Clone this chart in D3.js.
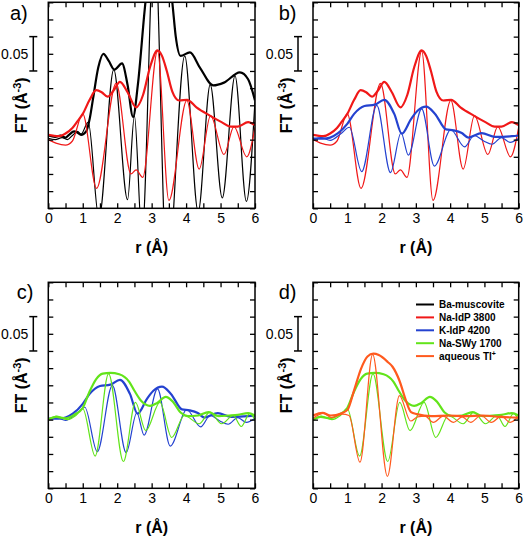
<!DOCTYPE html>
<html><head><meta charset="utf-8">
<script src="https://cdn.jsdelivr.net/npm/d3@7"></script>
<style>body{margin:0;background:#fff} svg{display:block} text{font-family:"Liberation Sans",Arial,sans-serif}</style>
</head><body><svg id="c" width="524" height="541"></svg>
<script>
// ---- data (r in Å, FT in Å^-3) ----
const baMagR = [0,0.2,0.35,0.5,0.6,0.75,0.85,0.95,1.1,1.2,1.3,1.45,1.6,1.75,1.92,2.14,2.3,2.46,2.6,2.8,3.0,3.2,3.4,3.6,3.7,3.84,4.11,4.4,4.79,5.1,5.56,5.8,6.0];
const baMagV = [0.006,0.004,0.006,0.003,0.007,0.012,0.010,0.007,0.012,0.03,0.06,0.105,0.125,0.115,0.102,0.111,0.08,0.033,0.08,0.19,0.28,0.30,0.28,0.2,0.15,0.122,0.127,0.105,0.079,0.083,0.098,0.088,0.057];
const baImR = [0,0.2,0.4,0.55,0.7,0.85,0.95,1.16,1.47,1.9,2.3,2.5,2.72,3.08,3.45,3.96,4.35,4.7,5.05,5.42,5.75,6.0];
const baImV = [0.002,0.0,0.003,0.0,0.006,0.012,0.008,0.0255,-0.115,0.102,-0.0875,0.035,-0.14,0.3,-0.2,0.122,-0.105,0.08,-0.085,0.093,-0.09,0.057];

const naMagR = [0,0.3,0.5,0.7,0.85,1.0,1.2,1.39,1.55,1.72,1.9,2.08,2.3,2.55,2.75,2.95,3.17,3.3,3.44,3.6,3.8,4.03,4.3,4.69,5.03,5.3,5.5,5.8,6.0];
const naMagV = [0.007,0.005,0.009,0.017,0.027,0.0375,0.058,0.072,0.069,0.0625,0.072,0.084,0.069,0.047,0.065,0.105,0.130,0.122,0.1,0.07,0.057,0.058,0.047,0.035,0.0255,0.019,0.019,0.0255,0.021];
const naImR = [0,0.22,0.5,0.7,1.0,1.4,1.97,2.4,2.55,2.74,3.17,3.5,4.02,4.38,4.71,5.1,5.39,5.76,6.0];
const naImV = [0.0,-0.005,-0.008,-0.002,0.0375,-0.071,0.082,-0.05,-0.044,-0.055,0.129,-0.0885,0.057,-0.043,0.035,-0.0216,0.019,-0.025,0.018];

const kMagR = [0,0.3,0.5,0.72,1.0,1.2,1.5,1.8,2.08,2.37,2.59,2.86,3.05,3.3,3.56,3.88,4.1,4.34,4.53,4.92,5.31,5.8,6.0];
const kMagV = [0.0015,0.0015,0.003,0.009,0.023,0.0375,0.049,0.051,0.058,0.0375,0.0087,0.030,0.042,0.048,0.0375,0.015,0.0135,0.0096,0.003,0.0096,0.004,0.005,0.006];
const kImR = [0,0.23,0.5,0.82,1.06,1.42,1.86,2.26,2.57,2.78,3.17,3.54,4.02,4.42,4.7,4.98,5.22,5.5,5.75,6.0];
const kImV = [0,0.003,-0.001,0.009,0.018,-0.0466,0.050,-0.048,0.010,-0.0226,0.0447,-0.0385,0.0144,-0.0106,0.006,-0.002,-0.0067,0.003,-0.004,0.002];

const swyMagR = [0,0.22,0.5,0.75,1.0,1.19,1.39,1.58,1.8,2.06,2.35,2.5,2.7,2.95,3.15,3.41,3.6,3.85,4.05,4.35,4.65,4.95,5.25,5.5,5.8,6.0];
const swyMagV = [0.0,0.004,0.002,0.007,0.017,0.04,0.059,0.067,0.068,0.066,0.055,0.042,0.027,0.02,0.024,0.033,0.027,0.01,0.005,0.006,0.011,0.005,0.006,0.007,0.0096,0.006];
const swyImR = [0,0.25,0.55,0.8,1.0,1.36,1.75,2.18,2.53,2.83,3.24,3.58,3.95,4.38,4.69,5.03,5.37,5.6,5.85,6.0];
const swyImV = [0,0.005,0.0,0.006,0.016,-0.053,0.067,-0.061,0.025,-0.016,0.025,-0.026,0.006,-0.006,0.011,-0.006,0.006,-0.01,0.009,-0.001];

const tlMagR = [0,0.28,0.52,0.82,1.01,1.2,1.4,1.59,1.76,1.92,2.18,2.32,2.52,2.71,2.86,3.03,3.45,3.95,4.45,4.95,5.45,6.0];
const tlMagV = [0.006,0.0097,0.006,0.009,0.0146,0.043,0.074,0.092,0.096,0.094,0.084,0.077,0.057,0.028,0.011,0.008,0.005,0.006,0.005,0.006,0.004,0.003];
const tlImR = [0,0.3,0.55,0.85,1.05,1.37,1.74,2.17,2.52,2.85,3.05,3.27,3.51,3.8,4.1,4.35,4.6,4.9,5.2,5.5,5.75,6.0];
const tlImV = [0.002,0.009,0.003,0.008,0.006,-0.062,0.095,-0.0825,0.035,-0.002,0.004,0.005,-0.004,0.005,-0.004,0.004,-0.004,0.006,-0.004,0.005,-0.004,0.005];

const legendNames = ["Ba-muscovite","Na-IdP 3800","K-IdP 4200","Na-SWy 1700","aqueous Tl"];
const xTickVals = [0,0.5,1,1.5,2,2.5,3,3.5,4,4.5,5,5.5,6];
const yTickVals = [-0.1,-0.075,-0.05,-0.025,0,0.025,0.05,0.075,0.1,0.125,0.15,0.175,0.2];
const panelLabels = ["a)","b)","c)","d)"];

// ---- styles ----
const COLORS = {ba:"#000000", na:"#f01818", k:"#2442d0", swy:"#62e41a", tl:"#ff5a1e"};
const DATA = {
  ba:{mr:baMagR,mv:baMagV,ir:baImR,iv:baImV},
  na:{mr:naMagR,mv:naMagV,ir:naImR,iv:naImV},
  k:{mr:kMagR,mv:kMagV,ir:kImR,iv:kImV},
  swy:{mr:swyMagR,mv:swyMagV,ir:swyImR,iv:swyImV},
  tl:{mr:tlMagR,mv:tlMagV,ir:tlImR,iv:tlImV}
};
const panels = [
  {x0:48.3,x1:255,y0:2.3,y1:208.3,lx:10,ly:20,series:["ba","na"]},
  {x0:313,x1:518.7,y0:2.3,y1:208.3,lx:278.7,ly:20,series:["na","k"]},
  {x0:48.3,x1:255,y0:282.3,y1:488.3,lx:16.7,ly:299,series:["k","swy"]},
  {x0:313,x1:518.7,y0:282.3,y1:488.3,lx:278.7,ly:299,series:["swy","tl"]}
];

const svg = d3.select("#c");
const FONT = '"Liberation Sans",Arial,sans-serif';

panels.forEach((p,i)=>{
  const x = d3.scaleLinear().domain([0,6]).range([p.x0,p.x1]);
  const y = d3.scaleLinear().domain([-0.1,0.2]).range([p.y1,p.y0]);
  const g = svg.append("g");
  const cid = "clip"+i;
  svg.append("clipPath").attr("id",cid).append("rect")
    .attr("x",p.x0).attr("y",p.y0).attr("width",p.x1-p.x0).attr("height",p.y1-p.y0);
  const lg = g.append("g").attr("clip-path",`url(#${cid})`);
  const line = d3.line().x(d=>x(d[0])).y(d=>y(d[1])).curve(d3.curveMonotoneX);
  p.series.forEach(s=>{
    const D = DATA[s];
    const im = D.ir.map((r,j)=>[r,D.iv[j]]);
    const mg = D.mr.map((r,j)=>[r,D.mv[j]]);
    lg.append("path").attr("d",line(im)).attr("fill","none").attr("stroke",COLORS[s]).attr("stroke-width",1.2);
    lg.append("path").attr("d",line(mg)).attr("fill","none").attr("stroke",COLORS[s]).attr("stroke-width",2.2);
  });
  // axes
  const fmt = d=>Number.isInteger(d)?String(d):"";
  const bx = g.append("g").attr("transform",`translate(0,${p.y1})`)
    .call(d3.axisBottom(x).tickValues(xTickVals).tickSize(-5).tickPadding(5).tickFormat(fmt));
  const tx = g.append("g").attr("transform",`translate(0,${p.y0})`)
    .call(d3.axisTop(x).tickValues(xTickVals).tickSize(-5).tickFormat(""));
  const ly = g.append("g").attr("transform",`translate(${p.x0},0)`)
    .call(d3.axisLeft(y).tickValues(yTickVals).tickSize(-5).tickFormat(""));
  const ry = g.append("g").attr("transform",`translate(${p.x1},0)`)
    .call(d3.axisRight(y).tickValues(yTickVals).tickSize(-5).tickFormat(""));
  [bx,tx,ly,ry].forEach(a=>{
    a.select(".domain").remove();
    a.selectAll("line").attr("stroke","#000").attr("stroke-width",1.3);
    a.attr("font-family",FONT).attr("font-size",14);
  });
  bx.selectAll("text").attr("fill","#000");
  g.append("rect").attr("x",p.x0).attr("y",p.y0).attr("width",p.x1-p.x0).attr("height",p.y1-p.y0)
    .attr("fill","none").attr("stroke","#000").attr("stroke-width",1.5);
  // x label
  const xl = g.append("text").attr("x",(p.x0+p.x1)/2).attr("y",p.y1+45)
    .attr("text-anchor","middle").attr("font-size",16).attr("font-weight","bold");
  xl.text("r (Å)");
  // y label
  const ym = (p.y0+p.y1)/2;
  const yl = g.append("text").attr("transform",`translate(${p.x0-21},${ym}) rotate(-90)`)
    .attr("text-anchor","middle").attr("font-size",16).attr("font-weight","bold");
  yl.append("tspan").text("FT (Å");
  yl.append("tspan").attr("dy",-6).attr("font-size",11).text("-3");
  yl.append("tspan").attr("dy",6).text(")");
  // scale bar 0.05
  const bxp = p.x0-15;
  g.append("line").attr("x1",bxp).attr("x2",bxp).attr("y1",y(0.15)).attr("y2",y(0.1)).attr("stroke","#000").attr("stroke-width",1.5);
  [0.15,0.1].forEach(v=>g.append("line").attr("x1",bxp-4).attr("x2",bxp+4).attr("y1",y(v)).attr("y2",y(v)).attr("stroke","#000").attr("stroke-width",1.5));
  g.append("text").attr("x",p.x0-20).attr("y",y(0.125)).attr("dy","0.36em").attr("text-anchor","end").attr("font-size",14).text("0.05");
  // panel label
  g.append("text").attr("x",p.lx).attr("y",p.ly).attr("font-size",20).text(panelLabels[i]);
});

// legend (panel d)
const legKeys = ["ba","na","k","swy","tl"];
const lgd = svg.append("g");
legKeys.forEach((k,i)=>{
  const yy = 304.5 + i*12.9;
  lgd.append("line").attr("x1",416).attr("x2",434).attr("y1",yy).attr("y2",yy).attr("stroke",COLORS[k]).attr("stroke-width",2);
  const t = lgd.append("text").attr("x",439).attr("y",yy+3.6).attr("font-size",10).attr("font-weight","bold").text(legendNames[i]);
  if(k==="tl") t.append("tspan").attr("dy",-4).attr("font-size",7).text("+");
});
</script></body></html>
